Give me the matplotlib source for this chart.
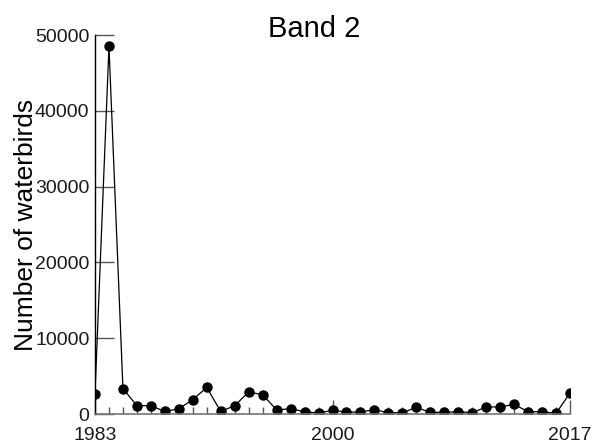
import numpy as np
import matplotlib.pyplot as plt
from matplotlib.ticker import MultipleLocator

plt.rcParams['font.family'] = ['Liberation Sans', 'DejaVu Sans']

years = list(range(1983, 2018))
# counts
birds = [2700, 48500, 3350, 1100, 1100, 330, 700, 1900, 3500, 330,
         1100, 2900, 2550, 530, 700, 300, 130, 480, 260, 260,
         570, 170, 170, 870, 220, 220, 300, 170, 930, 930,
         1270, 300, 300, 80, 2780]
y_ticks = [0, 10000, 20000, 30000, 40000, 50000]
x_ticks = [1983, 2000, 2017]

fig = plt.figure(figsize=(5.96, 4.44), dpi=100)
ax = fig.add_axes([95 / 596, 30 / 444, 475 / 596, 379 / 444])

ax.plot(years, birds, '-k', linewidth=0.9, marker='o', markersize=6.5)

ax.set_xlim(1983, 2017)
ax.set_ylim(0, 50000)
ax.set_xticks(x_ticks)
ax.set_yticks(y_ticks)
ax.xaxis.set_minor_locator(MultipleLocator(1))

for side in ['top', 'right']:
    ax.spines[side].set_visible(False)
ax.spines['left'].set_color('black')
ax.spines['left'].set_linewidth(1)
ax.spines['bottom'].set_color('#777777')
ax.spines['bottom'].set_linewidth(1.2)

ax.tick_params(axis='y', direction='in', length=14, width=1, color='#555555',
               labelsize=14, pad=4)
ax.tick_params(axis='x', which='major', direction='in', length=10, width=1,
               color='#555555', labelsize=14, pad=9)
ax.tick_params(axis='x', which='minor', direction='in', length=5, width=1,
               color='#555555')
for lab in ax.get_yticklabels() + ax.get_xticklabels():
    lab.set_color('#1a1a1a')

ax.set_ylabel('Number of waterbirds', fontsize=19, labelpad=-2)
ax.set_title('Band 2', fontsize=21, x=0.461, y=1.0, pad=-1.5)

fig.savefig('out.png', dpi=100)
